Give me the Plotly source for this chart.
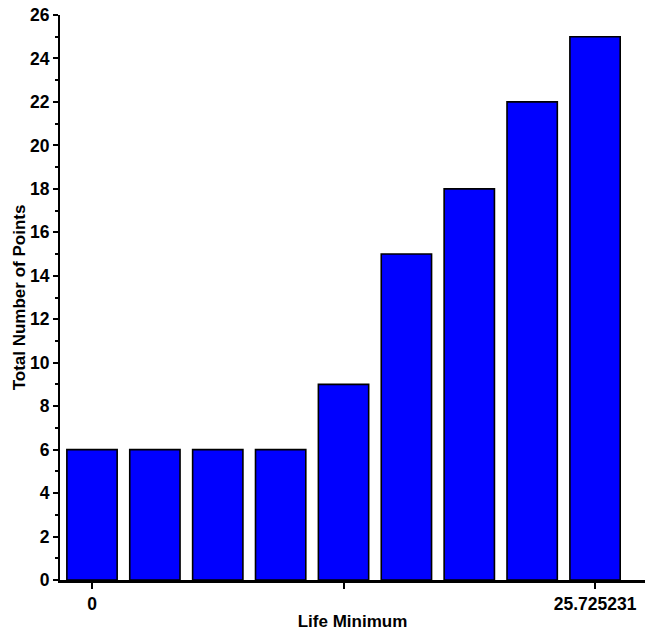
import plotly.graph_objects as go

# Histogram of point counts per life-minimum bin
bin_width = 25.725231 / 8
bin_centers = [i * bin_width for i in range(9)]
counts = [6, 6, 6, 6, 9, 15, 18, 22, 25]

x_tick_vals = [0, 25.725231 / 2, 25.725231]
x_tick_text = ["0", "", "25.725231"]
y_tick_vals = list(range(0, 27, 2))

fig = go.Figure(
    go.Bar(
        x=bin_centers,
        y=counts,
        width=bin_width * 0.8,
        marker=dict(color="#0000ff", line=dict(color="black", width=1.6)),
    )
)

family = "Liberation Sans, Arial, sans-serif"
title_font = dict(family=family, size=17, color="black", weight="bold")
tick_font = dict(family=family, size=17.5, color="black", weight="bold")

fig.update_layout(
    width=647,
    height=632,
    margin=dict(l=60, r=2, t=15, b=52),
    paper_bgcolor="white",
    plot_bgcolor="white",
    showlegend=False,
    font=title_font,
    xaxis=dict(
        range=[-1.637, 28.28],
        tickvals=x_tick_vals,
        ticktext=x_tick_text,
        ticks="outside",
        ticklen=6,
        tickwidth=2,
        tickcolor="black",
        tickfont=tick_font,
        showline=True,
        linecolor="black",
        linewidth=2.5,
        showgrid=False,
        zeroline=False,
        automargin=False,
        title=dict(text="Life Minimum", standoff=3, font=title_font),
    ),
    yaxis=dict(
        range=[0, 26],
        tickvals=y_tick_vals,
        ticks="outside",
        ticklen=5,
        tickwidth=2,
        tickcolor="black",
        tickfont=tick_font,
        minor=dict(dtick=1, ticks="outside", ticklen=3, tickwidth=2, tickcolor="black"),
        showline=True,
        linecolor="black",
        linewidth=2,
        showgrid=False,
        zeroline=False,
        automargin=False,
        title=dict(text="Total Number of Points", standoff=0, font=title_font),
    ),
)

fig.write_html("out.html")
